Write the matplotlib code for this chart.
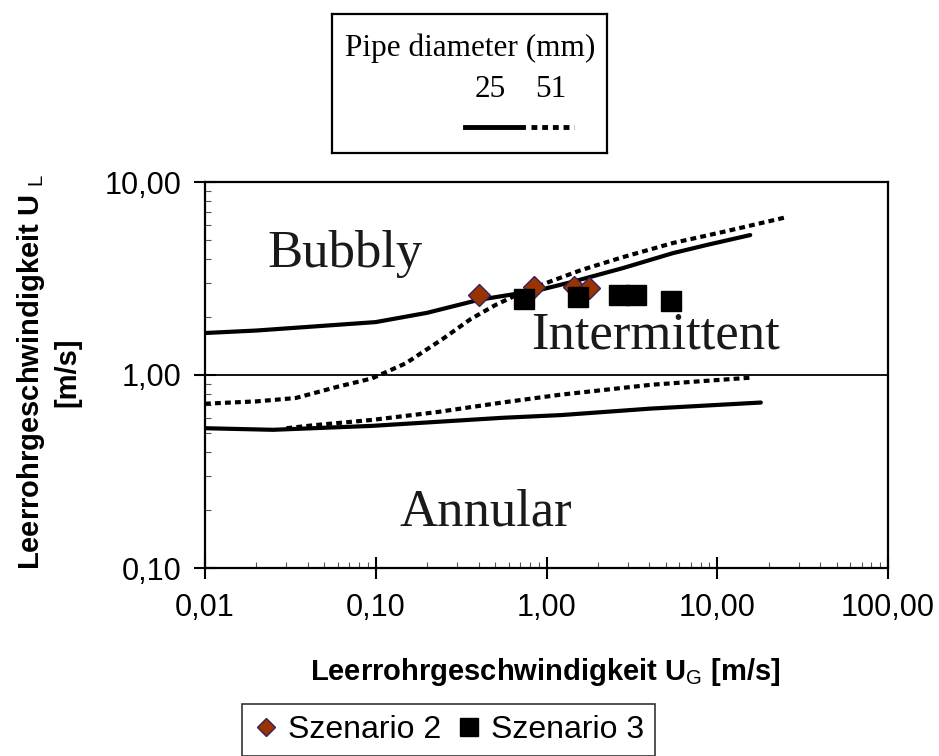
"""Flow pattern map (bubbly / intermittent / annular) with scenario points."""
import numpy as np
import matplotlib
matplotlib.use('Agg')
import matplotlib.pyplot as plt
from matplotlib.ticker import FuncFormatter, LogLocator, NullFormatter
from matplotlib.lines import Line2D

plt.rcParams['font.family'] = ['Liberation Sans', 'DejaVu Sans']
plt.rcParams['mathtext.fontset'] = 'custom'
plt.rcParams['mathtext.rm'] = 'Liberation Sans'
plt.rcParams['mathtext.bf'] = 'Liberation Sans:bold'

# transition boundaries, 25 mm pipe (solid)
ug_25_upper = [0.01, 0.02, 0.05, 0.1, 0.2, 0.4, 0.9, 1.4, 2.8, 5.5, 8.7, 15.6]
ul_25_upper = [1.65, 1.70, 1.80, 1.88, 2.10, 2.45, 2.75, 3.03, 3.58, 4.28, 4.72, 5.31]
ug_25_lower = [0.01, 0.025, 0.095, 0.55, 1.22, 4.1, 18.0]
ul_25_lower = [0.53, 0.52, 0.545, 0.60, 0.62, 0.67, 0.72]

# transition boundaries, 51 mm pipe (dotted)
ug_51_upper = [0.01, 0.02, 0.034, 0.06, 0.095, 0.15, 0.25, 0.36, 0.5, 0.7, 1.0, 1.6, 2.8, 5.5, 10.8, 25.0]
ul_51_upper = [0.71, 0.73, 0.76, 0.87, 0.96, 1.15, 1.55, 1.95, 2.3, 2.65, 3.0, 3.5, 4.08, 4.83, 5.51, 6.55]
ug_51_lower = [0.03, 0.044, 0.095, 0.23, 0.55, 1.2, 4.1, 16.0]
ul_51_lower = [0.53, 0.55, 0.585, 0.643, 0.72, 0.79, 0.89, 0.97]

# measured operating points
ug_sz2 = [0.40, 0.84, 1.45, 1.78]
ul_sz2 = [2.60, 2.85, 2.85, 2.81]
ug_sz3 = [0.74, 1.52, 2.65, 3.33, 5.36]
ul_sz3 = [2.48, 2.55, 2.60, 2.60, 2.43]

regions = ['Bubbly', 'Intermittent', 'Annular']
region_ug = [0.066, 4.37, 0.443]
region_ul = [3.63, 1.38, 0.167]

W, H = 939, 756
fig = plt.figure(figsize=(W / 100, H / 100), dpi=100)
ax = fig.add_axes([205 / W, 1 - 568 / H, 683 / W, 386 / H])

dotted = (0, (1.4, 1.0))
ax.plot(ug_25_upper, ul_25_upper, color='black', lw=3, solid_capstyle='round')
ax.plot(ug_25_lower, ul_25_lower, color='black', lw=3, solid_capstyle='round')
ax.plot(ug_51_upper, ul_51_upper, color='black', lw=3, ls=dotted)
ax.plot(ug_51_lower, ul_51_lower, color='black', lw=3, ls=dotted)

h2, = ax.plot(ug_sz2, ul_sz2, ls='none', marker='D', ms=11, mfc='#993300',
              mec='#3a1f5c', mew=1, zorder=4, label='Szenario 2')
h3, = ax.plot(ug_sz3, ul_sz3, ls='none', marker='s', ms=15, mfc='black',
              mec='black', zorder=4, label='Szenario 3')

for name, x, y in zip(regions, region_ug, region_ul):
    ax.text(x, y, name, ha='center', va='baseline', fontsize=38,
            family='Liberation Serif', color='#1a1a1a')

ax.set_xscale('log')
ax.set_yscale('log')
ax.set_xlim(0.01, 100)
ax.set_ylim(0.1, 10)

fmt = FuncFormatter(lambda v, _: f'{v:.2f}'.replace('.', ','))
ax.xaxis.set_major_formatter(fmt)
ax.yaxis.set_major_formatter(fmt)
ax.xaxis.set_minor_locator(LogLocator(base=10, subs=np.arange(2, 10)))
ax.yaxis.set_minor_locator(LogLocator(base=10, subs=np.arange(2, 10)))
ax.xaxis.set_minor_formatter(NullFormatter())
ax.yaxis.set_minor_formatter(NullFormatter())

ax.tick_params(which='major', direction='inout', length=16, width=1.5,
               labelsize=22, colors='black')
ax.tick_params(axis='x', which='major', pad=10)
ax.tick_params(axis='y', which='major', pad=9)
ax.tick_params(which='minor', direction='in', length=4, width=0.8, color='#555555')

for sp in ax.spines.values():
    sp.set_linewidth(1.6)
    sp.set_color('black')
ax.yaxis.grid(True, which='major', color='black', lw=1.3)

fig.text(545 / W, 1 - 672 / H, 'Leerrohrgeschwindigkeit U$_\\mathrm{G}$ [m/s]',
         ha='center', va='center', fontsize=21, fontweight='bold')
fig.text(48 / W, 1 - 372 / H, 'Leerrohrgeschwindigkeit U $_\\mathrm{L}$\n[m/s]',
         ha='center', va='center', rotation=90, fontsize=21,
         fontweight='bold', linespacing=1.3, multialignment='center')

# pipe diameter key
kax = fig.add_axes([332 / W, 1 - 153 / H, 275 / W, 139 / H])
kax.set_xticks([])
kax.set_yticks([])
for sp in kax.spines.values():
    sp.set_linewidth(1.6)
kax.set_xlim(0, 1)
kax.set_ylim(0, 1)
kax.text(0.502, 0.70, 'Pipe diameter (mm)', ha='center', va='baseline',
         fontsize=22.5, family='Liberation Serif')
kax.text(0.575, 0.40, '25', ha='center', va='baseline', fontsize=22.5,
         family='Liberation Serif')
kax.text(0.795, 0.40, '51', ha='center', va='baseline', fontsize=22.5,
         family='Liberation Serif')
kax.add_line(Line2D([0.484, 0.695], [0.187, 0.187], color='black', lw=3.5))
kax.add_line(Line2D([0.725, 0.88], [0.187, 0.187], color='black', lw=3.5,
                    ls=(0, (1.2, 1.0))))

leg = fig.legend(handles=[h2, h3], loc='upper left',
                 bbox_to_anchor=(242 / W, 1 - 704 / H), ncol=2, fontsize=23,
                 frameon=True, fancybox=False, edgecolor='black',
                 handlelength=0.8, handletextpad=0.3, columnspacing=0.45,
                 borderpad=0.35, borderaxespad=0, markerscale=1.0)
leg.get_frame().set_linewidth(1.2)
for lh in leg.legend_handles:
    lh.set_markersize(lh.get_markersize() * 0.85)

fig.savefig('out.png', dpi=100)
